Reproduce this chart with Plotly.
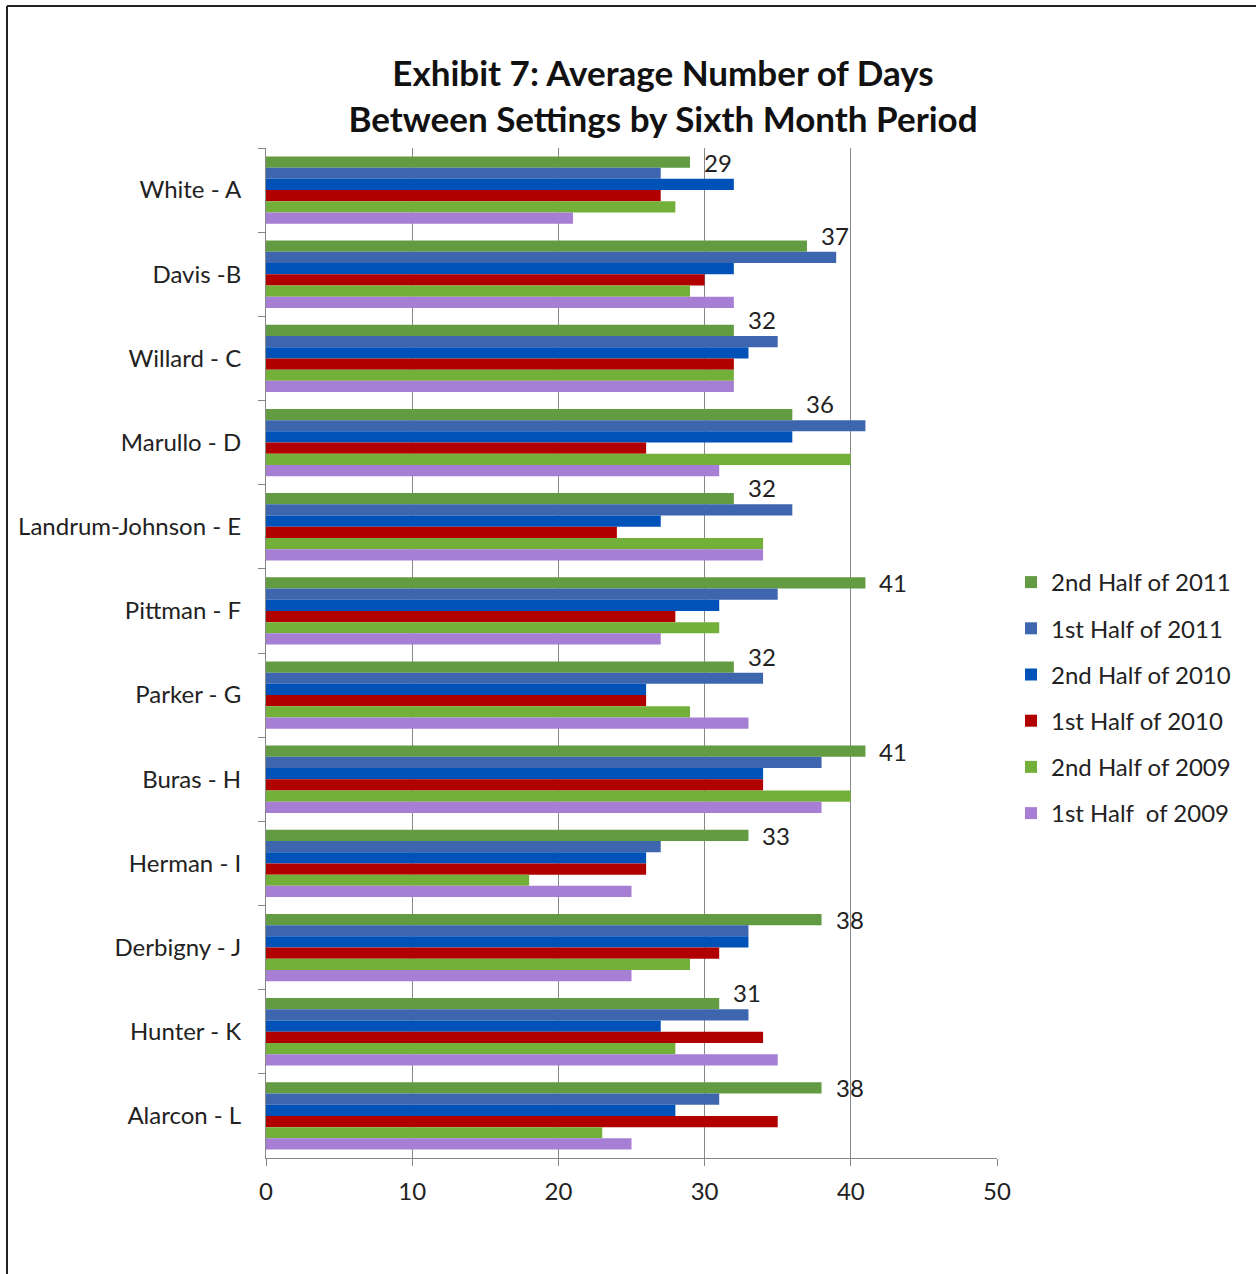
import plotly.graph_objects as go

categories = ["White - A", "Davis -B", "Willard - C", "Marullo - D", "Landrum-Johnson - E",
              "Pittman - F", "Parker - G", "Buras - H", "Herman - I", "Derbigny - J",
              "Hunter - K", "Alarcon - L"]

series_names = ["2nd Half of 2011", "1st Half of 2011", "2nd Half of 2010",
                "1st Half of 2010", "2nd Half of 2009", "1st Half  of 2009"]

h2_2011 = [29, 37, 32, 36, 32, 41, 32, 41, 33, 38, 31, 38]
h1_2011 = [27, 39, 35, 41, 36, 35, 34, 38, 27, 33, 33, 31]
h2_2010 = [32, 32, 33, 36, 27, 31, 26, 34, 26, 33, 27, 28]
h1_2010 = [27, 30, 32, 26, 24, 28, 26, 34, 26, 31, 34, 35]
h2_2009 = [28, 29, 32, 40, 34, 31, 29, 40, 18, 29, 28, 23]
h1_2009 = [21, 32, 32, 31, 34, 27, 33, 38, 25, 25, 35, 25]

series_values = [h2_2011, h1_2011, h2_2010, h1_2010, h2_2009, h1_2009]
colors = ["#629B41", "#3D66AE", "#0052B8", "#B00000", "#73B03A", "#A67ED4"]
x_ticks = [0, 10, 20, 30, 40, 50]

FONT = "Lato"
FS = 24
W, H = 1256, 1274
L, R, T, B = 266, 997, 148, 1158
BARGAP = 0.2

fig = go.Figure()
for i, (name, vals, col) in enumerate(zip(series_names, series_values, colors)):
    fig.add_trace(go.Bar(
        y=categories, x=vals, name=name, orientation="h",
        marker=dict(color=col, line=dict(width=0)),
        legendgroup=f"g{i}"))

# data labels for the "2nd Half of 2011" series (top bar of each group)
n = len(series_names)
top_offset = -(1 - BARGAP) / 2 + (1 - BARGAP) / (2 * n)
for idx, (v, nxt) in enumerate(zip(h2_2011, h1_2011)):
    fig.add_annotation(x=v, y=idx + top_offset, xref="x", yref="y", text=str(v),
                       showarrow=False, xanchor="left", yanchor="middle",
                       xshift=12, yshift=11 if nxt > v else 0,
                       font=dict(family=FONT, size=FS, color="#222222"))

grid = "#878787"
fig.update_layout(
    width=W, height=H,
    margin=dict(l=L, r=W - R, t=T, b=H - B, pad=0),
    paper_bgcolor="white", plot_bgcolor="white",
    barmode="group", bargap=BARGAP, bargroupgap=0,
    font=dict(family=FONT, size=FS, color="#222222"),
    title=dict(text="<b>Exhibit 7: Average Number of Days<br>Between Settings by Sixth Month Period</b>",
               x=663 / W, xanchor="center", xref="container",
               y=1 - 86 / H, yanchor="middle", yref="container",
               font=dict(family=FONT, size=35, color="#111111")),
    xaxis=dict(range=[0, 50], tickvals=x_ticks, showgrid=True, gridcolor=grid, gridwidth=1,
               showline=True, linecolor=grid, linewidth=1, ticks="outside", ticklen=7,
               tickcolor=grid, zeroline=False, tickfont=dict(size=FS, color="#222222"),
               ticklabelstandoff=5),
    yaxis=dict(type="category", range=[len(categories) - 0.5, -0.5], autorange=False,
               showgrid=False, showline=True,
               linecolor=grid, linewidth=1, ticks="outside", ticklen=7, tickcolor=grid,
               tickson="boundaries", tickfont=dict(size=FS, color="#222222"),
               ticklabelstandoff=19),
    legend=dict(x=(1011 - L) / (R - L), xanchor="left", y=(B - 560) / (B - T), yanchor="top",
                font=dict(family=FONT, size=FS, color="#222222"),
                tracegroupgap=12, traceorder="grouped", bgcolor="rgba(0,0,0,0)"),
    showlegend=True,
)

# outer chart border (left and top edges visible)
fig.add_shape(type="line", xref="paper", yref="paper",
              x0=(7 - L) / (R - L), x1=(7 - L) / (R - L), y0=(B - 6) / (B - T), y1=(B - 1300) / (B - T),
              line=dict(color="#222222", width=2))
fig.add_shape(type="line", xref="paper", yref="paper",
              x0=(7 - L) / (R - L), x1=(1300 - L) / (R - L), y0=(B - 6) / (B - T), y1=(B - 6) / (B - T),
              line=dict(color="#222222", width=2))

fig.write_html("out.html")
